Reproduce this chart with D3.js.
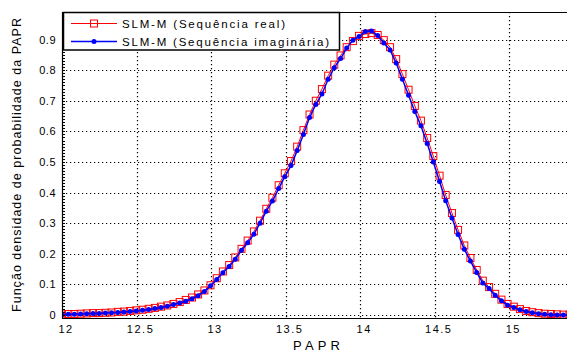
<!DOCTYPE html>
<html>
<head>
<meta charset="utf-8">
<script src="https://cdn.jsdelivr.net/npm/d3@7"></script>
<style>
  body { margin: 0; background: #fff; }
  text { font-family: Arial, "Liberation Sans", sans-serif; fill: #000; }
</style>
</head>
<body>
<script>
// bin centres (PAPR, dB)
var papr = [12.000, 12.042, 12.083, 12.125, 12.166, 12.208, 12.249, 12.291, 12.332, 12.374,
  12.415, 12.457, 12.498, 12.540, 12.581, 12.623, 12.664, 12.706, 12.747, 12.789,
  12.830, 12.872, 12.913, 12.955, 12.996, 13.038, 13.079, 13.121, 13.162, 13.204,
  13.245, 13.287, 13.328, 13.370, 13.411, 13.453, 13.494, 13.536, 13.577, 13.619,
  13.660, 13.702, 13.743, 13.785, 13.826, 13.868, 13.909, 13.951, 13.992, 14.034,
  14.075, 14.117, 14.158, 14.200, 14.241, 14.283, 14.324, 14.366, 14.407, 14.449,
  14.490, 14.532, 14.573, 14.615, 14.656, 14.698, 14.739, 14.781, 14.822, 14.864,
  14.905, 14.947, 14.988, 15.030, 15.071, 15.113, 15.154, 15.196, 15.237, 15.279,
  15.320, 15.362, 15.403];

var pdfReal = [0.002, 0.003, 0.003, 0.004, 0.005, 0.006, 0.006, 0.007, 0.008, 0.010,
  0.011, 0.013, 0.015, 0.017, 0.020, 0.023, 0.027, 0.031, 0.036, 0.042,
  0.049, 0.057, 0.067, 0.080, 0.097, 0.120, 0.142, 0.163, 0.188, 0.216,
  0.243, 0.273, 0.308, 0.347, 0.383, 0.424, 0.463, 0.503, 0.550, 0.604,
  0.655, 0.700, 0.738, 0.782, 0.818, 0.848, 0.875, 0.895, 0.912, 0.918,
  0.921, 0.915, 0.898, 0.875, 0.836, 0.787, 0.736, 0.683, 0.635, 0.578,
  0.519, 0.455, 0.392, 0.333, 0.278, 0.227, 0.186, 0.147, 0.112, 0.091,
  0.069, 0.050, 0.036, 0.027, 0.019, 0.013, 0.009, 0.006, 0.004, 0.003,
  0.002, 0.001, 0.001];

var pdfImag = [0.001, 0.002, 0.002, 0.003, 0.004, 0.005, 0.005, 0.006, 0.007, 0.008,
  0.010, 0.011, 0.013, 0.015, 0.018, 0.021, 0.024, 0.028, 0.034, 0.039,
  0.045, 0.053, 0.063, 0.077, 0.095, 0.116, 0.138, 0.158, 0.182, 0.211,
  0.236, 0.264, 0.300, 0.339, 0.372, 0.413, 0.452, 0.488, 0.537, 0.590,
  0.645, 0.688, 0.722, 0.770, 0.808, 0.838, 0.872, 0.898, 0.910, 0.926,
  0.928, 0.913, 0.889, 0.866, 0.823, 0.770, 0.718, 0.665, 0.618, 0.560,
  0.500, 0.436, 0.373, 0.317, 0.263, 0.215, 0.176, 0.139, 0.104, 0.086,
  0.064, 0.046, 0.032, 0.024, 0.017, 0.011, 0.007, 0.004, 0.002, 0.001,
  0.000, 0.000, 0.000];

var xTicks = [12, 12.5, 13, 13.5, 14, 14.5, 15];
var xTickLabels = ['12', '12.5', '13', '13.5', '14', '14.5', '15'];
var yTicks = [0, 0.1, 0.2, 0.3, 0.4, 0.5, 0.6, 0.7, 0.8, 0.9];
var yTickLabels = ['0', '0.1', '0.2', '0.3', '0.4', '0.5', '0.6', '0.7', '0.8', '0.9'];
var legendLabels = ['SLM-M (Sequência real)', 'SLM-M (Sequência imaginária)'];

var width = 567, height = 352;
var box = { left: 62, right: 569, top: 12, bottom: 318 };

var x = d3.scaleLinear().domain([12, 15.4]).range([box.left, box.right]);
var y = d3.scaleLinear().domain([-0.01, 0.99]).range([box.bottom, box.top]);

var svg = d3.select('body').append('svg')
  .attr('width', width)
  .attr('height', height);

svg.append('defs').append('clipPath')
  .attr('id', 'plot')
  .append('rect')
  .attr('x', box.left).attr('y', box.top)
  .attr('width', box.right - box.left).attr('height', box.bottom - box.top);

// grid
var grid = svg.append('g')
  .attr('stroke', '#000')
  .attr('stroke-width', 1.2)
  .attr('stroke-dasharray', '1.2,2.8');

grid.selectAll('.vg')
  .data(xTicks.slice(1))
  .enter().append('line')
  .attr('x1', function (d) { return Math.round(x(d)) + 0.5; })
  .attr('x2', function (d) { return Math.round(x(d)) + 0.5; })
  .attr('y1', box.top)
  .attr('y2', box.bottom);

grid.selectAll('.hg')
  .data(yTicks)
  .enter().append('line')
  .attr('x1', box.left)
  .attr('x2', width)
  .attr('y1', function (d) { return Math.round(y(d)) + 0.5; })
  .attr('y2', function (d) { return Math.round(y(d)) + 0.5; });

// series
var real = papr.map(function (d, i) { return [d, pdfReal[i]]; });
var imag = papr.map(function (d, i) { return [d, pdfImag[i]]; });

var line = d3.line()
  .x(function (d) { return x(d[0]); })
  .y(function (d) { return y(d[1]); });

var plot = svg.append('g').attr('clip-path', 'url(#plot)');

plot.append('path')
  .datum(real)
  .attr('fill', 'none')
  .attr('stroke', '#ff0000')
  .attr('stroke-width', 1)
  .attr('d', line);

plot.selectAll('.sq')
  .data(real)
  .enter().append('rect')
  .attr('x', function (d) { return x(d[0]) - 3.5; })
  .attr('y', function (d) { return y(d[1]) - 3.5; })
  .attr('width', 7)
  .attr('height', 7)
  .attr('fill', 'none')
  .attr('stroke', '#ff0000')
  .attr('stroke-width', 1);

plot.append('path')
  .datum(imag)
  .attr('fill', 'none')
  .attr('stroke', '#0000ff')
  .attr('stroke-width', 1.5)
  .attr('d', line);

plot.selectAll('.dot')
  .data(imag)
  .enter().append('circle')
  .attr('cx', function (d) { return x(d[0]); })
  .attr('cy', function (d) { return y(d[1]); })
  .attr('r', 2.5)
  .attr('fill', '#0000ff');

// axes
svg.append('line')
  .attr('x1', box.left + 0.5).attr('x2', box.left + 0.5)
  .attr('y1', box.top).attr('y2', box.bottom + 0.5)
  .attr('stroke', '#000').attr('stroke-width', 1.2);

svg.append('line')
  .attr('x1', box.left).attr('x2', width)
  .attr('y1', box.bottom + 0.5).attr('y2', box.bottom + 0.5)
  .attr('stroke', '#000').attr('stroke-width', 1.2);

svg.append('line')
  .attr('x1', box.left).attr('x2', width)
  .attr('y1', box.top + 0.5).attr('y2', box.top + 0.5)
  .attr('stroke', '#000').attr('stroke-width', 1.2);

// minor ticks on the y axis
svg.append('g').selectAll('line')
  .data(d3.range(-0.01, 0.99, 0.01))
  .enter().append('line')
  .attr('x1', box.left).attr('x2', box.left + 3)
  .attr('y1', function (d) { return Math.round(y(d)) + 0.5; })
  .attr('y2', function (d) { return Math.round(y(d)) + 0.5; })
  .attr('stroke', '#000').attr('stroke-width', 1);

svg.append('g').selectAll('text')
  .data(yTicks)
  .enter().append('text')
  .attr('x', 56)
  .attr('y', function (d) { return y(d) + 4; })
  .attr('text-anchor', 'end')
  .style('font-size', '11px')
  .style('letter-spacing', '0.5px')
  .text(function (d, i) { return yTickLabels[i]; });

svg.append('g').selectAll('text')
  .data(xTicks)
  .enter().append('text')
  .attr('x', function (d) { return x(d) + 4; })
  .attr('y', 333)
  .attr('text-anchor', 'middle')
  .style('font-size', '11px')
  .style('letter-spacing', '1.5px')
  .text(function (d, i) { return xTickLabels[i]; });

svg.append('text')
  .attr('x', 293)
  .attr('y', 350)
  .attr('textLength', 47)
  .attr('lengthAdjust', 'spacing')
  .style('font-size', '13px')
  .text('PAPR');

svg.append('text')
  .attr('transform', 'translate(21,312) rotate(-90)')
  .attr('textLength', 294)
  .attr('lengthAdjust', 'spacing')
  .style('font-size', '12.5px')
  .text('Função densidade de probabilidade da PAPR');

// legend
var legend = svg.append('g');

legend.append('rect')
  .attr('x', 63.5).attr('y', 12.5)
  .attr('width', 276).attr('height', 37.5)
  .attr('fill', '#fff')
  .attr('stroke', '#000')
  .attr('stroke-width', 1.5);

legend.append('line')
  .attr('x1', 71).attr('x2', 117).attr('y1', 23.5).attr('y2', 23.5)
  .attr('stroke', '#ff0000').attr('stroke-width', 1);
legend.append('rect')
  .attr('x', 90.5).attr('y', 20).attr('width', 7).attr('height', 7)
  .attr('fill', 'none').attr('stroke', '#ff0000');

legend.append('line')
  .attr('x1', 71).attr('x2', 117).attr('y1', 41.5).attr('y2', 41.5)
  .attr('stroke', '#0000ff').attr('stroke-width', 1.5);
legend.append('circle')
  .attr('cx', 94).attr('cy', 41.5).attr('r', 2.5)
  .attr('fill', '#0000ff');

legend.selectAll('.lt')
  .data(legendLabels)
  .enter().append('text')
  .attr('x', 122)
  .attr('y', function (d, i) { return 27.5 + i * 18; })
  .attr('textLength', function (d, i) { return i ? 207 : 163; })
  .attr('lengthAdjust', 'spacing')
  .style('font-size', '11.5px')
  .text(function (d) { return d; });
</script>
</body>
</html>
